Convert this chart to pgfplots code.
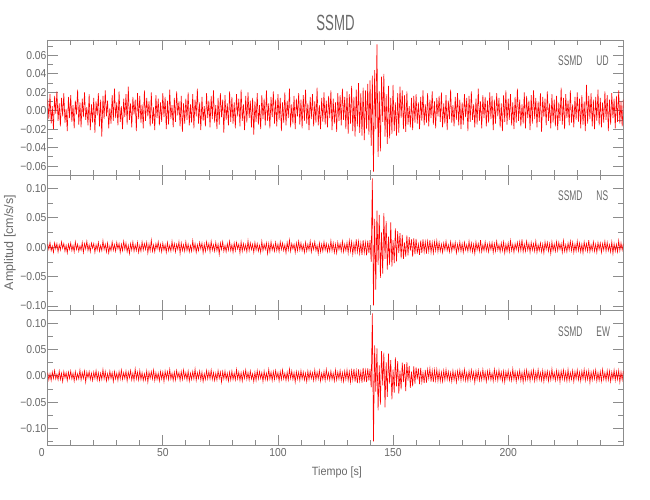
\documentclass[border=0pt]{standalone}
\usepackage{fontspec}
\setmainfont{Liberation Sans}
\newfontfamily\tickf[FakeStretch=0.9]{Liberation Sans}
\newfontfamily\capf[FakeStretch=0.6]{Liberation Sans}
\newfontfamily\labf[FakeStretch=0.9]{Liberation Sans}
\usepackage{pgfplots}
\pgfplotsset{compat=1.18}
\definecolor{axgray}{RGB}{140,140,140}
\definecolor{txtgray}{RGB}{105,105,105}
\tikzset{panlab/.style={anchor=west, text=txtgray, font=\capf\fontsize{14}{16}\selectfont, inner sep=0pt}}
\pgfplotsset{seis/.style={
  scale only axis, width=575.6pt, height=135pt,
  xmin=0, xmax=250,
  xtick={0,50,100,150,200},
  minor xtick={10,20,30,40,60,70,80,90,110,120,130,140,160,170,180,190,210,220,230,240},
  xtick pos=both, ytick pos=both,
  tick align=inside, major tick length=10pt, minor tick length=5pt,
  axis line style={draw=axgray, line width=0.8pt},
  tick style={draw=axgray, line width=0.7pt},
  tick label style={font=\tickf\fontsize{11.5}{12}\selectfont, text=txtgray},
  yticklabel style={inner xsep=1pt},
}}
\begin{document}
\begin{tikzpicture}[x=1pt,y=1pt]
\path[use as bounding box] (0,0) rectangle (650,500);
% ---------- UD ----------
\begin{axis}[seis, at={(47.7pt,325pt)}, anchor=south west,
  ymin=-69.7, ymax=76.7,
  ytick={-60,-40,-20,0,20,40,60},
  yticklabels={−0.06,−0.04,−0.02,0.00,0.02,0.04,0.06},
  minor ytick={-50,-30,-10,10,30,50,70},
  xticklabels={}]
\addplot[red, line width=0.6pt] table[row sep=\\, header=false, x expr=\coordindex*0.5, y index=0] {
12\\ -9\\ 18\\ -14\\ 5\\ -20\\ 16\\ -3\\ 21\\ -11\\ 8\\ -17\\ 14\\ -6\\ 19\\ -13\\ 2\\ -22\\ 15\\ -8\\
17\\ -12\\ 6\\ -19\\ 11\\ -4\\ 23\\ -15\\ 9\\ -18\\ 13\\ -7\\ 20\\ -10\\ 4\\ -16\\ 18\\ -21\\ 7\\ -13\\
14\\ -24\\ 10\\ -5\\ 19\\ -17\\ 12\\ -28\\ 16\\ -9\\ 22\\ -6\\ 11\\ -19\\ 3\\ -14\\ 17\\ -11\\ 24\\ -8\\
9\\ -16\\ 21\\ -12\\ 5\\ -20\\ 13\\ -7\\ 18\\ -15\\ 26\\ -10\\ 8\\ -18\\ 15\\ -4\\ 12\\ -22\\ 19\\ -9\\
16\\ -13\\ 7\\ -19\\ 22\\ -11\\ 14\\ -6\\ 10\\ -17\\ 20\\ -14\\ 4\\ -21\\ 17\\ -8\\ 13\\ -16\\ 9\\ -12\\
19\\ -7\\ 15\\ -20\\ 11\\ -15\\ 23\\ -9\\ 6\\ -18\\ 14\\ -12\\ 21\\ -5\\ 10\\ -17\\ 16\\ -23\\ 8\\ -14\\
13\\ -10\\ 20\\ -16\\ 7\\ -13\\ 18\\ -19\\ 12\\ -6\\ 24\\ -14\\ 9\\ -21\\ 15\\ -11\\ 5\\ -17\\ 19\\ -8\\
11\\ -18\\ 16\\ -9\\ 22\\ -13\\ 6\\ -20\\ 14\\ -15\\ 19\\ -7\\ 12\\ -24\\ 17\\ -10\\ 8\\ -16\\ 21\\ -12\\
15\\ -14\\ 9\\ -19\\ 18\\ -6\\ 13\\ -17\\ 23\\ -11\\ 7\\ -21\\ 16\\ -13\\ 20\\ -8\\ 11\\ -18\\ 14\\ -26\\
10\\ -12\\ 19\\ -15\\ 6\\ -20\\ 17\\ -9\\ 13\\ -16\\ 22\\ -11\\ 8\\ -19\\ 15\\ -7\\ 21\\ -14\\ 12\\ -17\\
18\\ -10\\ 14\\ -22\\ 9\\ -13\\ 20\\ -16\\ 11\\ -8\\ 24\\ -18\\ 7\\ -14\\ 16\\ -20\\ 13\\ -6\\ 19\\ -15\\
12\\ -19\\ 17\\ -11\\ 23\\ -14\\ 8\\ -21\\ 15\\ -9\\ 18\\ -17\\ 10\\ -13\\ 25\\ -16\\ 6\\ -20\\ 14\\ -12\\
20\\ -15\\ 11\\ -18\\ 16\\ -8\\ 22\\ -21\\ 13\\ -14\\ 9\\ -23\\ 19\\ -11\\ 17\\ -16\\ 24\\ -10\\ 15\\ -20\\
21\\ -25\\ 18\\ -14\\ 27\\ -22\\ 15\\ -28\\ 23\\ -17\\ 30\\ -24\\ 19\\ -27\\ 25\\ -32\\ 22\\ -20\\ 29\\ -26\\
33\\ -38\\ 38\\ -66\\ 44\\ -20\\ 72\\ -50\\ 21\\ -44\\ 37\\ -12\\ 40\\ -28\\ 18\\ -36\\ 27\\ -30\\ 14\\ -25\\
28\\ -22\\ 9\\ -27\\ 19\\ -24\\ 26\\ -8\\ 22\\ -20\\ 17\\ -23\\ 21\\ -15\\ 5\\ -18\\ 14\\ -21\\ 16\\ -13\\
18\\ -14\\ 9\\ -20\\ 15\\ -11\\ 22\\ -16\\ 7\\ -13\\ 19\\ -17\\ 12\\ -8\\ 21\\ -15\\ 10\\ -19\\ 14\\ -6\\
16\\ -12\\ 20\\ -18\\ 8\\ -14\\ 17\\ -21\\ 11\\ -9\\ 23\\ -13\\ 6\\ -17\\ 15\\ -10\\ 19\\ -16\\ 12\\ -20\\
9\\ -15\\ 18\\ -7\\ 14\\ -22\\ 16\\ -12\\ 21\\ -10\\ 7\\ -18\\ 13\\ -15\\ 24\\ -11\\ 10\\ -19\\ 17\\ -8\\
15\\ -17\\ 11\\ -13\\ 20\\ -9\\ 16\\ -21\\ 12\\ -14\\ 19\\ -6\\ 14\\ -18\\ 8\\ -22\\ 17\\ -12\\ 22\\ -15\\
13\\ -10\\ 18\\ -16\\ 9\\ -20\\ 15\\ -13\\ 24\\ -11\\ 12\\ -17\\ 7\\ -14\\ 20\\ -19\\ 16\\ -8\\ 11\\ -21\\
17\\ -14\\ 22\\ -9\\ 14\\ -18\\ 10\\ -12\\ 19\\ -23\\ 15\\ -7\\ 13\\ -16\\ 21\\ -11\\ 8\\ -19\\ 18\\ -13\\
12\\ -17\\ 16\\ -21\\ 9\\ -11\\ 25\\ -15\\ 14\\ -20\\ 18\\ -8\\ 11\\ -16\\ 22\\ -13\\ 7\\ -18\\ 15\\ -10\\
20\\ -12\\ 13\\ -19\\ 17\\ -15\\ 10\\ -22\\ 28\\ -14\\ 16\\ -9\\ 19\\ -17\\ 12\\ -20\\ 15\\ -11\\ 23\\ -16\\
14\\ -18\\ 9\\ -13\\ 21\\ -10\\ 17\\ -22\\ 12\\ -15\\ 19\\ -8\\ 13\\ -19\\ 16\\ -12\\ 22\\ -14\\ 10\\ -17\\
12\\
};
\node[panlab] at (rel axis cs:0.8866,0.847) {SSMD\hspace{14pt}UD};
\end{axis}
% ---------- NS ----------
\begin{axis}[seis, at={(47.7pt,190pt)}, anchor=south west,
  ymin=-106.8, ymax=122.6,
  ytick={-100,-50,0,50,100},
  yticklabels={−0.10,−0.05,0.00,0.05,0.10},
  minor ytick={-75,-25,25,75},
  xticklabels={}]
\addplot[red, line width=0.6pt] table[row sep=\\, header=false, x expr=\coordindex*0.5, y index=0] {
5\\ -4\\ 8\\ -6\\ 2\\ -9\\ 7\\ -3\\ 6\\ -8\\ 4\\ -5\\ 9\\ -2\\ 6\\ -7\\ 3\\ -10\\ 5\\ -4\\
7\\ -6\\ 3\\ -8\\ 9\\ -4\\ 5\\ -7\\ 2\\ -5\\ 8\\ -9\\ 6\\ -3\\ 10\\ -6\\ 4\\ -8\\ 7\\ -2\\
6\\ -9\\ 4\\ -5\\ 8\\ -7\\ 3\\ -6\\ 11\\ -4\\ 5\\ -8\\ 7\\ -10\\ 2\\ -6\\ 9\\ -5\\ 4\\ -7\\
8\\ -3\\ 6\\ -9\\ 5\\ -6\\ 10\\ -4\\ 7\\ -8\\ 3\\ -11\\ 6\\ -5\\ 9\\ -7\\ 4\\ -6\\ 8\\ -9\\
3\\ -7\\ 9\\ -5\\ 6\\ -4\\ 8\\ -10\\ 5\\ -6\\ 12\\ -7\\ 4\\ -8\\ 6\\ -3\\ 9\\ -6\\ 5\\ -8\\
7\\ -5\\ 4\\ -9\\ 8\\ -6\\ 3\\ -7\\ 10\\ -5\\ 6\\ -8\\ 5\\ -4\\ 9\\ -11\\ 7\\ -6\\ 4\\ -7\\
9\\ -6\\ 5\\ -8\\ 3\\ -7\\ 11\\ -5\\ 6\\ -9\\ 4\\ -6\\ 8\\ -3\\ 7\\ -10\\ 5\\ -7\\ 9\\ -4\\
6\\ -8\\ 10\\ -5\\ 4\\ -7\\ 8\\ -6\\ 5\\ -12\\ 7\\ -4\\ 9\\ -7\\ 3\\ -8\\ 6\\ -5\\ 10\\ -6\\
4\\ -9\\ 7\\ -6\\ 8\\ -3\\ 5\\ -10\\ 9\\ -7\\ 6\\ -5\\ 4\\ -8\\ 11\\ -6\\ 7\\ -4\\ 5\\ -9\\
8\\ -5\\ 6\\ -7\\ 3\\ -9\\ 10\\ -6\\ 5\\ -4\\ 7\\ -11\\ 6\\ -8\\ 9\\ -5\\ 4\\ -7\\ 8\\ -6\\
5\\ -8\\ 9\\ -4\\ 7\\ -6\\ 4\\ -10\\ 8\\ -5\\ 12\\ -7\\ 6\\ -3\\ 5\\ -9\\ 7\\ -6\\ 10\\ -5\\
7\\ -6\\ 4\\ -9\\ 8\\ -7\\ 5\\ -5\\ 10\\ -8\\ 6\\ -4\\ 9\\ -6\\ 3\\ -11\\ 7\\ -8\\ 5\\ -7\\
9\\ -5\\ 6\\ -8\\ 4\\ -7\\ 11\\ -6\\ 7\\ -9\\ 5\\ -10\\ 8\\ -4\\ 6\\ -7\\ 10\\ -8\\ 5\\ -6\\
8\\ -10\\ 11\\ -7\\ 9\\ -12\\ 6\\ -9\\ 13\\ -8\\ 10\\ -11\\ 7\\ -13\\ 12\\ -9\\ 8\\ -14\\ 11\\ -10\\
12\\ -25\\ 117\\ -99\\ 48\\ -72\\ 62\\ -30\\ 55\\ -52\\ 25\\ -45\\ 58\\ -20\\ 44\\ -38\\ 18\\ -30\\ 42\\ -33\\
12\\ -27\\ 32\\ -24\\ 27\\ -10\\ 24\\ -19\\ 21\\ -20\\ 8\\ -16\\ 20\\ -14\\ 17\\ -6\\ 13\\ -16\\ 15\\ -12\\
14\\ -11\\ 5\\ -13\\ 11\\ -10\\ 13\\ -8\\ 9\\ -11\\ 10\\ -7\\ 12\\ -9\\ 8\\ -10\\ 9\\ -6\\ 11\\ -8\\
8\\ -7\\ 5\\ -9\\ 7\\ -5\\ 10\\ -6\\ 4\\ -8\\ 9\\ -7\\ 6\\ -4\\ 8\\ -10\\ 5\\ -6\\ 9\\ -7\\
6\\ -9\\ 8\\ -5\\ 4\\ -7\\ 10\\ -6\\ 7\\ -8\\ 5\\ -11\\ 9\\ -5\\ 6\\ -7\\ 12\\ -8\\ 4\\ -6\\
9\\ -6\\ 5\\ -8\\ 7\\ -4\\ 8\\ -9\\ 6\\ -7\\ 10\\ -5\\ 4\\ -8\\ 7\\ -6\\ 9\\ -10\\ 5\\ -7\\
7\\ -8\\ 11\\ -6\\ 5\\ -9\\ 6\\ -4\\ 8\\ -7\\ 9\\ -6\\ 13\\ -8\\ 5\\ -7\\ 10\\ -5\\ 6\\ -9\\
8\\ -5\\ 6\\ -7\\ 10\\ -9\\ 4\\ -6\\ 7\\ -8\\ 5\\ -10\\ 9\\ -4\\ 8\\ -7\\ 6\\ -11\\ 9\\ -6\\
5\\ -7\\ 9\\ -6\\ 8\\ -4\\ 6\\ -9\\ 11\\ -7\\ 4\\ -8\\ 7\\ -5\\ 10\\ -6\\ 8\\ -9\\ 5\\ -7\\
10\\ -6\\ 7\\ -8\\ 5\\ -10\\ 9\\ -5\\ 6\\ -7\\ 12\\ -8\\ 4\\ -6\\ 9\\ -7\\ 5\\ -9\\ 8\\ -4\\
7\\ -9\\ 6\\ -5\\ 10\\ -7\\ 8\\ -6\\ 4\\ -8\\ 9\\ -11\\ 6\\ -7\\ 5\\ -8\\ 11\\ -6\\ 7\\ -5\\
6\\
};
\node[panlab] at (rel axis cs:0.8866,0.844) {SSMD\hspace{14pt}NS};
\end{axis}
% ---------- EW ----------
\begin{axis}[seis, at={(47.7pt,55pt)}, anchor=south west,
  ymin=-131.8, ymax=125.3,
  ytick={-100,-50,0,50,100},
  yticklabels={−0.10,−0.05,0.00,0.05,0.10},
  minor ytick={-125,-75,-25,25,75,125},
  xticklabels={\llap{0\hspace{3pt}},50,100,150,200}]
\addplot[red, line width=0.6pt] table[row sep=\\, header=false, x expr=\coordindex*0.5, y index=0] {
6\\ -8\\ 4\\ -9\\ 7\\ -5\\ 10\\ -6\\ 3\\ -8\\ 9\\ -7\\ 5\\ -11\\ 8\\ -4\\ 6\\ -9\\ 7\\ -5\\
9\\ -6\\ 5\\ -10\\ 8\\ -7\\ 4\\ -6\\ 11\\ -8\\ 6\\ -5\\ 9\\ -12\\ 7\\ -4\\ 8\\ -7\\ 5\\ -9\\
7\\ -5\\ 10\\ -8\\ 6\\ -9\\ 5\\ -7\\ 12\\ -6\\ 8\\ -10\\ 4\\ -7\\ 9\\ -5\\ 6\\ -11\\ 8\\ -6\\
5\\ -9\\ 8\\ -6\\ 11\\ -7\\ 6\\ -5\\ 9\\ -10\\ 7\\ -4\\ 10\\ -8\\ 5\\ -9\\ 13\\ -6\\ 7\\ -8\\
10\\ -7\\ 6\\ -9\\ 4\\ -8\\ 9\\ -12\\ 7\\ -5\\ 8\\ -6\\ 11\\ -9\\ 6\\ -7\\ 5\\ -10\\ 8\\ -6\\
7\\ -11\\ 9\\ -5\\ 8\\ -7\\ 12\\ -6\\ 5\\ -9\\ 7\\ -8\\ 10\\ -4\\ 6\\ -9\\ 8\\ -7\\ 11\\ -5\\
6\\ -8\\ 9\\ -10\\ 5\\ -7\\ 8\\ -6\\ 13\\ -9\\ 6\\ -5\\ 9\\ -8\\ 7\\ -11\\ 4\\ -7\\ 10\\ -6\\
8\\ -6\\ 11\\ -7\\ 6\\ -9\\ 5\\ -8\\ 10\\ -5\\ 7\\ -12\\ 8\\ -6\\ 9\\ -7\\ 5\\ -10\\ 7\\ -8\\
9\\ -7\\ 5\\ -8\\ 12\\ -6\\ 7\\ -9\\ 6\\ -10\\ 8\\ -5\\ 11\\ -7\\ 6\\ -8\\ 9\\ -6\\ 4\\ -11\\
7\\ -9\\ 10\\ -6\\ 8\\ -5\\ 6\\ -11\\ 9\\ -7\\ 5\\ -8\\ 12\\ -6\\ 7\\ -9\\ 8\\ -7\\ 10\\ -5\\
6\\ -10\\ 8\\ -7\\ 11\\ -6\\ 5\\ -9\\ 7\\ -8\\ 13\\ -5\\ 9\\ -7\\ 6\\ -12\\ 8\\ -6\\ 7\\ -9\\
10\\ -6\\ 7\\ -8\\ 5\\ -11\\ 9\\ -7\\ 8\\ -5\\ 6\\ -9\\ 11\\ -8\\ 7\\ -6\\ 10\\ -10\\ 5\\ -7\\
8\\ -9\\ 12\\ -6\\ 6\\ -8\\ 9\\ -7\\ 5\\ -10\\ 11\\ -8\\ 7\\ -6\\ 10\\ -9\\ 6\\ -11\\ 9\\ -7\\
11\\ -9\\ 8\\ -12\\ 10\\ -8\\ 13\\ -11\\ 9\\ -14\\ 12\\ -10\\ 8\\ -13\\ 15\\ -11\\ 10\\ -12\\ 14\\ -9\\
13\\ -22\\ 119\\ -125\\ 58\\ -30\\ 52\\ -66\\ 20\\ -55\\ 47\\ -18\\ 44\\ -60\\ 26\\ -40\\ 42\\ -15\\ 30\\ -45\\
12\\ -32\\ 35\\ -20\\ 28\\ -34\\ 10\\ -26\\ 25\\ -12\\ 22\\ -29\\ 26\\ -9\\ 19\\ -23\\ 8\\ -20\\ 18\\ -15\\
16\\ -7\\ 14\\ -16\\ 15\\ -12\\ 6\\ -14\\ 11\\ -13\\ 12\\ -5\\ 14\\ -11\\ 10\\ -12\\ 11\\ -9\\ 12\\ -10\\
9\\ -10\\ 7\\ -11\\ 10\\ -8\\ 12\\ -7\\ 8\\ -9\\ 6\\ -11\\ 10\\ -8\\ 7\\ -12\\ 9\\ -6\\ 11\\ -9\\
8\\ -7\\ 12\\ -9\\ 6\\ -10\\ 9\\ -8\\ 11\\ -6\\ 7\\ -13\\ 9\\ -7\\ 10\\ -9\\ 6\\ -8\\ 12\\ -7\\
7\\ -11\\ 9\\ -6\\ 10\\ -8\\ 5\\ -10\\ 12\\ -7\\ 8\\ -9\\ 11\\ -6\\ 7\\ -10\\ 9\\ -12\\ 8\\ -6\\
10\\ -8\\ 6\\ -9\\ 13\\ -7\\ 8\\ -11\\ 7\\ -6\\ 10\\ -9\\ 6\\ -12\\ 9\\ -8\\ 11\\ -7\\ 7\\ -10\\
9\\ -6\\ 11\\ -10\\ 7\\ -8\\ 12\\ -7\\ 6\\ -9\\ 10\\ -11\\ 8\\ -6\\ 9\\ -10\\ 7\\ -8\\ 13\\ -6\\
6\\ -9\\ 10\\ -7\\ 8\\ -12\\ 9\\ -6\\ 11\\ -8\\ 7\\ -10\\ 12\\ -9\\ 6\\ -7\\ 10\\ -11\\ 8\\ -6\\
11\\ -8\\ 7\\ -10\\ 9\\ -6\\ 12\\ -9\\ 8\\ -7\\ 10\\ -13\\ 7\\ -8\\ 9\\ -6\\ 11\\ -10\\ 6\\ -9\\
8\\ -10\\ 12\\ -7\\ 6\\ -9\\ 10\\ -8\\ 9\\ -11\\ 7\\ -6\\ 11\\ -9\\ 8\\ -7\\ 10\\ -12\\ 7\\ -8\\
9\\
};
\node[panlab] at (rel axis cs:0.8866,0.839) {SSMD\hspace{14pt}EW};
\end{axis}
% ---------- titles ----------
\node[text=txtgray, font=\capf\fontsize{22}{24}\selectfont] at (335.5,477) {SSMD};
\node[text=txtgray, rotate=90, font=\rmfamily\fontsize{12.5}{14}\selectfont] at (10,257.5) {Amplitud [cm/s/s]};
\node[text=txtgray, font=\labf\fontsize{12}{14}\selectfont] at (337,28) {Tiempo [s]};
\end{tikzpicture}
\end{document}
